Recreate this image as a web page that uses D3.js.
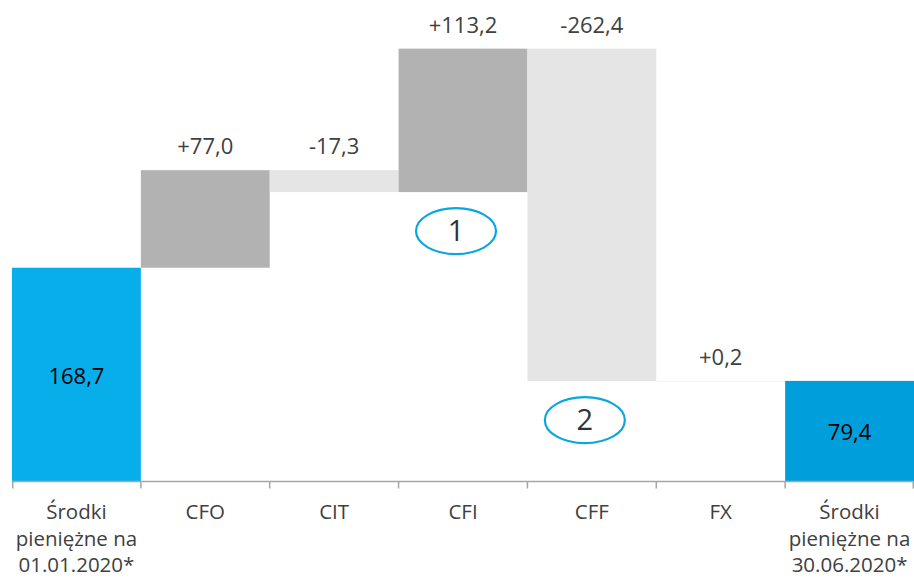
<!DOCTYPE html>
<html>
<head>
<meta charset="utf-8">
<script src="https://cdn.jsdelivr.net/npm/d3@7"></script>
<style>
  html, body { margin: 0; padding: 0; background: #fff; }
  svg { display: block; font-family: "Open Sans", sans-serif; }
</style>
</head>
<body>
<svg id="chart" width="914" height="581"></svg>
<script>
// ---- data ----
const categories = ["Start", "CFO", "CIT", "CFI", "CFF", "FX", "End"];
const categoryLines = [
  ["Środki", "pieniężne na", "01.01.2020*"],
  ["CFO"], ["CIT"], ["CFI"], ["CFF"], ["FX"],
  ["Środki", "pieniężne na", "30.06.2020*"]
];
const values = [168.7, 77.0, -17.3, 113.2, -262.4, 0.2, 79.4];
const kinds = ["total", "delta", "delta", "delta", "delta", "delta", "total"];
const valueLabels = ["168,7", "+77,0", "-17,3", "+113,2", "-262,4", "+0,2", "79,4"];
const annotationCats = ["CFI", "CFF"];
const annotationLabels = ["1", "2"];

// ---- styles ----
const fills = {
  Start: "#07AEEA", CFO: "#B2B2B2", CIT: "#E5E5E5", CFI: "#B2B2B2",
  CFF: "#E5E5E5", FX: "#F3F3F3", End: "#009FDB"
};

// ---- build waterfall ----
let running = 0;
const rows = categories.map((c, i) => {
  let y0, y1;
  if (kinds[i] === "total") { y0 = 0; y1 = values[i]; running = values[i]; }
  else { y0 = running; y1 = running + values[i]; running = y1; }
  return { cat: c, lo: Math.min(y0, y1), hi: Math.max(y0, y1), kind: kinds[i], label: valueLabels[i], lines: categoryLines[i] };
});

const svg = d3.select("#chart");
const x = d3.scaleBand().domain(categories).range([12, 914]).padding(0);
const y = d3.scaleLinear().domain([0, 380]).range([481.5, 0]);

// bars
svg.append("g").selectAll("rect").data(rows).join("rect")
  .attr("x", d => x(d.cat))
  .attr("width", x.bandwidth())
  .attr("y", d => y(d.hi))
  .attr("height", d => Math.max(1, y(d.lo) - y(d.hi)))
  .attr("fill", d => fills[d.cat]);

// value labels
svg.append("g").selectAll("text").data(rows).join("text")
  .attr("x", d => x(d.cat) + x.bandwidth() / 2)
  .attr("y", d => d.kind === "total" ? (y(d.hi) + y(d.lo)) / 2 + 9 : y(d.hi) - 16)
  .attr("text-anchor", "middle")
  .attr("font-size", 22)
  .attr("fill", d => d.kind === "total" ? "#000" : "#404040")
  .text(d => d.label);

// axis
const axis = svg.append("g").attr("transform", "translate(0,481.5)");
axis.append("line").attr("x1", 12).attr("x2", 914).attr("stroke", "#A6A6A6").attr("stroke-width", 1.5);
const bounds = categories.map(c => x(c)).concat([x.range()[1] - 0.75]);
axis.selectAll("line.tick").data(bounds).join("line").attr("class", "tick")
  .attr("x1", d => Math.max(12.75, d)).attr("x2", d => Math.max(12.75, d))
  .attr("y1", 0).attr("y2", 7)
  .attr("stroke", "#A6A6A6").attr("stroke-width", 1.5);

// category labels
const cl = svg.append("g").selectAll("text").data(rows).join("text")
  .attr("text-anchor", "middle")
  .attr("font-size", 20.5)
  .attr("fill", "#404040");
cl.each(function(d) {
  const t = d3.select(this);
  d.lines.forEach((ln, j) => {
    t.append("tspan")
      .attr("x", x(d.cat) + x.bandwidth() / 2)
      .attr("y", 519 + j * 26.5)
      .text(ln);
  });
});

// annotations
const ann = svg.append("g").selectAll("g").data(annotationCats).join("g")
  .attr("transform", d => {
    const r = rows.find(r => r.cat === d);
    return `translate(${x(d) + x.bandwidth() / 2 - 7},${y(r.lo) + 39})`;
  });
ann.append("ellipse").attr("rx", 40).attr("ry", 23)
  .attr("fill", "none").attr("stroke", "#0AA6E0").attr("stroke-width", 2.2);
ann.append("text").attr("text-anchor", "middle").attr("y", 9.5)
  .attr("font-size", 29).attr("fill", "#333")
  .text((d, i) => annotationLabels[i]);
</script>
</body>
</html>
